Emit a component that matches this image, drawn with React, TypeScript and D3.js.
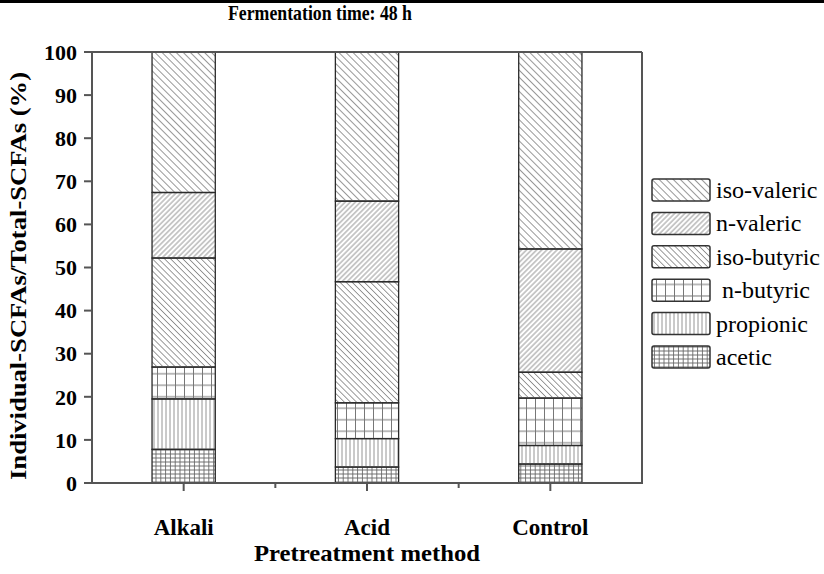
import React from 'react';
import * as d3 from 'd3';

const categories = ['Alkali', 'Acid', 'Control'];
const seriesKeys = ['acetic', 'propionic', 'n-butyric', 'iso-butyric', 'n-valeric', 'iso-valeric'];
const acetic = [7.8, 3.7, 4.4];
const propionic = [11.7, 6.6, 4.3];
const nButyric = [7.4, 8.3, 11.0];
const isoButyric = [25.3, 28.1, 6.0];
const nValeric = [15.2, 18.7, 28.6];
const isoValeric = [32.6, 34.6, 45.7];
const yTicks = [0, 10, 20, 30, 40, 50, 60, 70, 80, 90, 100];
const legendOrder = ['iso-valeric', 'n-valeric', 'iso-butyric', 'n-butyric', 'propionic', 'acetic'];
const legendLabels = ['iso-valeric', 'n-valeric', 'iso-butyric', '\u00a0n-butyric', 'propionic', 'acetic'];

const W = 824, H = 574;
const L = 92, R = 642, T = 52, B = 483;
const FONT = '"Liberation Serif", "Times New Roman", Times, serif';

const patId: Record<string, string> = {
  'acetic': 'p-acet', 'propionic': 'p-prop', 'n-butyric': 'p-nbut',
  'iso-butyric': 'p-ibut', 'n-valeric': 'p-nval', 'iso-valeric': 'p-ival',
};

export default function App() {
  const table = categories.map((c, i) => ({
    cat: c,
    'acetic': acetic[i], 'propionic': propionic[i], 'n-butyric': nButyric[i],
    'iso-butyric': isoButyric[i], 'n-valeric': nValeric[i], 'iso-valeric': isoValeric[i],
  }));
  const stacked = d3.stack<any>().keys(seriesKeys)(table);
  const x = d3.scaleBand().domain(categories).range([L, R]).paddingInner(0.655).paddingOuter(0.3275);
  const y = d3.scaleLinear().domain([0, 100]).range([B, T]);
  const step = x.step();
  const minorX = [1, 2].map(k => L + k * step);
  const cx = (c: string) => x(c)! + x.bandwidth() / 2;

  const diag = (id: string, s: number, ang: number, col: string) => (
    <pattern id={id} width={s} height={s} patternUnits="userSpaceOnUse" patternTransform={`rotate(${ang})`}>
      <line x1={s / 2} y1={-1} x2={s / 2} y2={s + 1} stroke={col} strokeWidth={0.9} />
    </pattern>
  );
  const grid = (id: string, w: number, h: number, col: string, sw: number) => (
    <pattern id={id} width={w} height={h} patternUnits="userSpaceOnUse">
      <line x1={w / 2} y1={0} x2={w / 2} y2={h} stroke={col} strokeWidth={sw} />
      <line x1={0} y1={h / 2} x2={w} y2={h / 2} stroke={col} strokeWidth={sw} />
    </pattern>
  );

  return (
    <svg width={W} height={H} style={{ position: 'absolute', left: 0, top: 0, background: '#fff' }} fontFamily={FONT}>
      <defs>
        {diag('p-ival', 5, -45, '#8c8c8c')}
        {diag('p-nval', 3.6, 45, '#8c8c8c')}
        {diag('p-ibut', 4.3, -45, '#8c8c8c')}
        {grid('p-nbut', 9, 11.5, '#777', 1)}
        <pattern id="p-prop" width={4} height={10} patternUnits="userSpaceOnUse">
          <line x1={2} y1={0} x2={2} y2={10} stroke="#888" strokeWidth={0.9} />
        </pattern>
        {grid('p-acet', 4.8, 4, '#666', 0.9)}
      </defs>
      <rect x={0} y={0} width={W} height={H} fill="#fff" />
      <line x1={0} x2={W} y1={1.5} y2={1.5} stroke="#000" strokeWidth={3} />
      <text x={320} y={20} textAnchor="middle" fontSize={22} fontWeight="bold" textLength={184} lengthAdjust="spacingAndGlyphs">Fermentation time: 48 h</text>

      {stacked.map(s => (
        <g key={s.key}>
          {s.map((d, i) => (
            <rect key={i} x={x(categories[i])} width={x.bandwidth()} y={y(d[1])} height={y(d[0]) - y(d[1])}
              fill={`url(#${patId[s.key]})`} stroke="#2a2a2a" strokeWidth={1.3} />
          ))}
        </g>
      ))}

      <g stroke="#555" strokeWidth={2} fill="none">
        <line x1={L} x2={R} y1={T} y2={T} />
        <line x1={R} x2={R} y1={T} y2={B} />
        <line x1={L} x2={L} y1={T} y2={B + 1} />
        <line x1={L - 1} x2={R + 1} y1={B} y2={B} />
      </g>
      {yTicks.map(t => (
        <g key={t}>
          <line x1={L - 8} x2={L} y1={y(t)} y2={y(t)} stroke="#555" strokeWidth={2} />
          <text x={L - 15} y={y(t)} dy="0.35em" textAnchor="end" fontSize={22} fontWeight="bold">{t}</text>
        </g>
      ))}
      {categories.map(c => (
        <g key={c}>
          <line x1={cx(c)} x2={cx(c)} y1={B} y2={B + 8} stroke="#555" strokeWidth={2} />
          <text x={cx(c)} y={535} textAnchor="middle" fontSize={23} fontWeight="bold">{c}</text>
        </g>
      ))}
      {minorX.map((m, i) => (
        <line key={i} x1={m} x2={m} y1={B} y2={B + 5} stroke="#555" strokeWidth={2} />
      ))}
      <text x={(L + R) / 2} y={561} textAnchor="middle" fontSize={23} fontWeight="bold" textLength={226} lengthAdjust="spacingAndGlyphs">Pretreatment method</text>
      <text transform={`translate(26, 276) rotate(-90)`} textAnchor="middle" fontSize={23} fontWeight="bold" textLength={408} lengthAdjust="spacingAndGlyphs">Individual-SCFAs/Total-SCFAs (%)</text>

      {legendOrder.map((k, i) => (
        <g key={k} transform={`translate(652, ${190 + i * 33.4})`}>
          <rect x={0} y={-11} width={58} height={22} rx={2} fill={`url(#${patId[k]})`} stroke="#333" strokeWidth={1.5} />
          <text x={64} y={0} dy="0.33em" fontSize={24}>{legendLabels[i]}</text>
        </g>
      ))}
    </svg>
  );
}
